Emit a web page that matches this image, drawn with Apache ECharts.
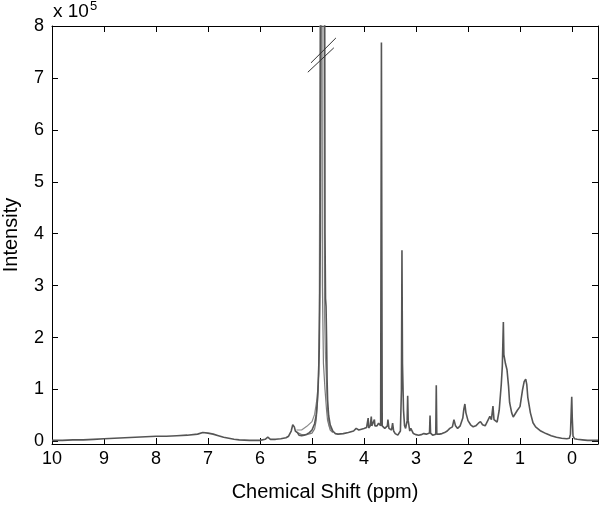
<!DOCTYPE html>
<html>
<head>
<meta charset="utf-8">
<script src="https://cdn.jsdelivr.net/npm/echarts@6/dist/echarts.min.js"></script>
<style>html,body{margin:0;padding:0;background:#fff;}#c{width:600px;height:505px;}</style>
</head>
<body>
<div id="c"></div>
<script>
// ---- data (intensity in units of 1e5) ----
const xTicks = [0, 1, 2, 3, 4, 5, 6, 7, 8, 9, 10];
const yTicks = [0, 1, 2, 3, 4, 5, 6, 7, 8];

const ppmMain = [10.0, 9.8, 9.6, 9.4, 9.2, 9.0, 8.8, 8.6, 8.4, 8.2, 8.0, 7.8, 7.6, 7.4, 7.2, 7.1, 7.0, 6.9, 6.8, 6.7, 6.6, 6.5, 6.4, 6.2, 6.0, 5.9, 5.85, 5.8, 5.7, 5.6, 5.5, 5.45, 5.4, 5.37, 5.34, 5.32, 5.3, 5.28, 5.25, 5.2, 5.15, 5.1, 5.05, 5.0, 4.95, 4.92, 4.9, 4.88, 4.86, 4.84, 4.82, 4.80, 4.78, 4.76, 4.75, 4.74, 4.73, 4.72, 4.71, 4.70, 4.68, 4.65, 4.6, 4.55, 4.5, 4.4, 4.3, 4.2, 4.15, 4.1, 4.0, 3.95, 3.92, 3.91, 3.88, 3.86, 3.85, 3.82, 3.8, 3.79, 3.75, 3.72, 3.68, 3.665, 3.65, 3.6, 3.55, 3.54, 3.52, 3.47, 3.45, 3.43, 3.4, 3.35, 3.3, 3.28, 3.27, 3.26, 3.24, 3.22, 3.2, 3.17, 3.16, 3.15, 3.12, 3.1, 3.05, 3.0, 2.95, 2.9, 2.85, 2.8, 2.74, 2.73, 2.72, 2.68, 2.62, 2.61, 2.6, 2.55, 2.5, 2.45, 2.4, 2.35, 2.3, 2.27, 2.24, 2.2, 2.15, 2.1, 2.08, 2.06, 2.04, 2.0, 1.95, 1.9, 1.85, 1.8, 1.76, 1.72, 1.67, 1.62, 1.58, 1.55, 1.52, 1.5, 1.44, 1.4, 1.36, 1.34, 1.32, 1.31, 1.28, 1.25, 1.22, 1.2, 1.16, 1.13, 1.1, 1.05, 1.0, 0.95, 0.92, 0.89, 0.87, 0.85, 0.8, 0.75, 0.7, 0.6, 0.5, 0.4, 0.3, 0.2, 0.1, 0.05, 0.03, 0.015, 0.005, -0.005, -0.02, -0.05, -0.1, -0.2, -0.3, -0.5];
const intMain = [0.02, 0.02, 0.03, 0.03, 0.04, 0.05, 0.06, 0.07, 0.08, 0.09, 0.10, 0.10, 0.11, 0.12, 0.14, 0.17, 0.16, 0.14, 0.11, 0.08, 0.06, 0.04, 0.03, 0.02, 0.02, 0.04, 0.08, 0.04, 0.04, 0.05, 0.07, 0.10, 0.20, 0.32, 0.28, 0.20, 0.23, 0.17, 0.12, 0.11, 0.12, 0.14, 0.17, 0.22, 0.34, 0.50, 0.75, 1.10, 1.80, 4.0, 12.0, 25.0, 30.0, 12.0, 4.0, 2.75, 2.6, 2.0, 1.2, 0.8, 0.5, 0.32, 0.20, 0.15, 0.14, 0.15, 0.17, 0.20, 0.25, 0.22, 0.25, 0.27, 0.45, 0.26, 0.30, 0.48, 0.30, 0.28, 0.42, 0.30, 0.30, 0.35, 0.30, 7.68, 0.30, 0.25, 0.30, 0.42, 0.25, 0.22, 0.35, 0.20, 0.15, 0.12, 0.20, 1.0, 3.68, 1.5, 0.6, 0.30, 0.25, 0.40, 0.88, 0.40, 0.20, 0.25, 0.15, 0.13, 0.12, 0.13, 0.15, 0.14, 0.16, 0.50, 0.16, 0.12, 0.14, 1.08, 0.14, 0.14, 0.15, 0.17, 0.20, 0.25, 0.28, 0.42, 0.30, 0.25, 0.30, 0.45, 0.62, 0.72, 0.55, 0.40, 0.32, 0.28, 0.30, 0.35, 0.38, 0.32, 0.30, 0.40, 0.48, 0.42, 0.68, 0.42, 0.37, 0.60, 1.10, 1.45, 2.30, 1.67, 1.50, 1.38, 1.06, 0.75, 0.55, 0.47, 0.50, 0.60, 0.67, 1.00, 1.15, 1.20, 1.10, 0.85, 0.55, 0.36, 0.28, 0.20, 0.15, 0.11, 0.08, 0.06, 0.05, 0.06, 0.14, 0.58, 0.86, 0.45, 0.10, 0.05, 0.04, 0.03, 0.02, 0.02];

const ppmB = [5.3, 5.2, 5.1, 5.0, 4.95, 4.92, 4.9, 4.88, 4.86, 4.84, 4.83, 4.81, 4.8, 4.78, 4.75, 4.72, 4.7, 4.65, 4.6];
const intB = [0.18, 0.13, 0.13, 0.16, 0.24, 0.40, 0.65, 1.0, 2.2, 10.0, 30.0, 10.0, 3.0, 1.5, 1.0, 0.6, 0.4, 0.22, 0.17];

const ppmC = [5.3, 5.2, 5.1, 5.0, 4.95, 4.9, 4.87, 4.85, 4.82, 4.79, 4.77, 4.76, 4.74, 4.72, 4.7, 4.67, 4.6];
const intC = [0.22, 0.22, 0.29, 0.38, 0.52, 0.85, 1.3, 2.8, 18.0, 25.0, 8.0, 2.5, 1.6, 1.1, 0.6, 0.3, 0.18];

// axis-break marks (data coordinates)
const breakPpm = [5.08, 4.58, null, 5.02, 4.54];
const breakInt = [7.11, 7.58, null, 7.29, 7.77];

const pairs = (xs, ys) => xs.map((x, i) => (x === null ? [null, null] : [x, ys[i]]));

const FONT = 'Liberation Sans';
const chart = echarts.init(document.getElementById('c'), null, { renderer: 'canvas' });

const axisBase = {
  type: 'value',
  axisLine: { show: true, onZero: false, lineStyle: { color: '#000', width: 1 } },
  splitLine: { show: false },
};

chart.setOption({
  animation: false,
  backgroundColor: '#fff',
  grid: { left: 52, right: 2, top: 26, bottom: 61, containLabel: false },
  xAxis: [
    Object.assign({}, axisBase, {
      position: 'bottom', min: -0.5, max: 10, inverse: true,
      axisTick: { show: true, inside: true, length: 6, customValues: xTicks, lineStyle: { color: '#000' } },
      axisLabel: { show: true, margin: 6, customValues: xTicks, color: '#000', fontFamily: FONT, fontSize: 18 },
    }),
    Object.assign({}, axisBase, {
      position: 'top', min: -0.5, max: 10, inverse: true,
      axisTick: { show: true, inside: true, length: 6, customValues: xTicks, lineStyle: { color: '#000' } },
      axisLabel: { show: false },
    }),
  ],
  yAxis: [
    Object.assign({}, axisBase, {
      position: 'left', min: -0.05, max: 8,
      axisTick: { show: true, inside: true, length: 6, customValues: yTicks, lineStyle: { color: '#000' } },
      axisLabel: { show: true, margin: 8, customValues: yTicks, color: '#000', fontFamily: FONT, fontSize: 18 },
    }),
    Object.assign({}, axisBase, {
      position: 'right', min: -0.05, max: 8,
      axisTick: { show: true, inside: true, length: 6, customValues: yTicks, lineStyle: { color: '#000' } },
      axisLabel: { show: false },
    }),
  ],
  series: [
    { type: 'line', data: pairs(ppmC, intC), showSymbol: false, clip: true, lineStyle: { color: '#8a8a8a', width: 1.2 }, z: 2 },
    { type: 'line', data: pairs(ppmB, intB), showSymbol: false, clip: true, lineStyle: { color: '#7a7a7a', width: 1.2 }, z: 2 },
    { type: 'line', data: pairs(ppmMain, intMain), showSymbol: false, clip: true, lineStyle: { color: '#555', width: 1.6 }, z: 3 },
    { type: 'line', data: pairs(breakPpm, breakInt), showSymbol: false, clip: true, connectNulls: false, lineStyle: { color: '#333', width: 1 }, z: 4 },
  ],
  graphic: [
    { type: 'text', x: 53, y: 21, style: { text: 'x 10', fontFamily: FONT, fontSize: 19, fill: '#000', align: 'left', verticalAlign: 'bottom' } },
    { type: 'text', x: 90, y: 13, style: { text: '5', fontFamily: FONT, fontSize: 13, fill: '#000', align: 'left', verticalAlign: 'bottom' } },
    { type: 'text', x: 11, y: 235, rotation: Math.PI / 2, style: { text: 'Intensity', fontFamily: FONT, fontSize: 20, fill: '#000', align: 'center', verticalAlign: 'middle' } },
    { type: 'text', x: 325, y: 492, style: { text: 'Chemical Shift (ppm)', fontFamily: FONT, fontSize: 20, fill: '#000', align: 'center', verticalAlign: 'middle' } },
  ],
});
</script>
</body>
</html>
